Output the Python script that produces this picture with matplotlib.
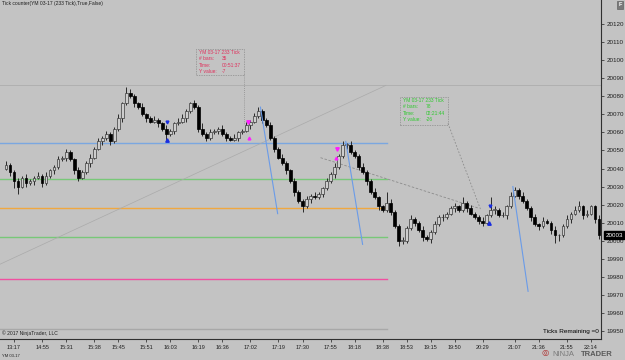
import matplotlib
matplotlib.use("Agg")
import matplotlib.pyplot as plt
from matplotlib.patches import Rectangle

plt.rcParams['font.family'] = ['Liberation Sans', 'DejaVu Sans']

# tick bars (233 tick), close prices
closes = [20042, 20038, 20033, 20030, 20035, 20032, 20033, 20035, 20036, 20032,
          20036, 20039, 20041, 20045, 20046, 20049, 20045, 20039, 20035, 20038,
          20043, 20046, 20051, 20055, 20057, 20059, 20055, 20062, 20068, 20076,
          20082, 20080, 20076, 20074, 20070, 20068, 20066, 20067, 20065, 20062,
          20059, 20061, 20065, 20066, 20068, 20072, 20076, 20074, 20062, 20059,
          20057, 20060, 20061, 20062, 20059, 20057, 20056, 20057, 20060, 20061,
          20064, 20066, 20069, 20072, 20067, 20064, 20057, 20051, 20046, 20043,
          20039, 20033, 20027, 20022, 20019, 20023, 20025, 20024, 20026, 20029,
          20033, 20037, 20041, 20047, 20053, 20053, 20049, 20047, 20041, 20038,
          20033, 20027, 20024, 20019, 20017, 20021, 20016, 20008, 20000, 20000,
          20007, 20012, 20010, 20006, 20002, 20001, 20005, 20009, 20013, 20013,
          20015, 20018, 20019, 20017, 20021, 20018, 20015, 20013, 20011, 20010,
          20014, 20017, 20017, 20014, 20014, 20019, 20025, 20028, 20025, 20022,
          20018, 20013, 20009, 20008, 20011, 20010, 20006, 20003, 20003, 20008,
          20012, 20015, 20017, 20019, 20014, 20015, 20019, 20012, 20003]
first_open = 20040
wick_hi = [2, 1, 1, 2, 1, 2, 1, 1, 2, 1, 2, 1, 1, 2, 1, 2, 1, 1, 2, 1, 1, 2, 1, 2, 1,
           2, 1, 1, 2, 1, 3, 2, 1, 1, 2, 1, 1, 2, 1, 1, 2, 1, 1, 2, 2, 1, 1, 2, 1, 3,
           1, 2, 1, 1, 2, 1, 1, 2, 1, 1, 2, 1, 2, 2, 1, 1, 2, 1, 1, 2, 1, 1, 2, 1, 1,
           2, 1, 2, 1, 1, 2, 1, 2, 1, 2, 1, 2, 1, 1, 2, 1, 1, 2, 1, 1, 6, 2, 1, 1, 2,
           1, 2, 1, 1, 2, 1, 1, 2, 1, 2, 1, 1, 2, 1, 3, 1, 2, 1, 1, 2, 1, 7, 2, 1, 2,
           1, 2, 2, 1, 2, 1, 1, 2, 1, 2, 1, 1, 2, 1, 1, 2, 1, 2, 3, 1, 2, 1, 1, 2]
wick_lo = [1, 2, 4, 4, 1, 2, 1, 2, 1, 2, 1, 1, 2, 1, 1, 2, 1, 2, 2, 1, 1, 2, 1, 1, 2,
           1, 2, 1, 1, 2, 1, 1, 2, 1, 1, 2, 1, 1, 2, 1, 3, 1, 2, 1, 1, 2, 1, 1, 2, 1,
           2, 1, 1, 2, 1, 2, 1, 1, 2, 1, 1, 2, 1, 1, 2, 1, 1, 2, 1, 1, 2, 1, 2, 1, 3,
           1, 2, 1, 1, 2, 1, 1, 2, 1, 1, 2, 1, 1, 2, 1, 2, 1, 1, 2, 1, 1, 2, 1, 3, 2,
           1, 1, 2, 1, 2, 1, 2, 1, 1, 2, 1, 1, 2, 1, 1, 2, 1, 1, 2, 2, 1, 1, 2, 1, 1,
           2, 1, 1, 2, 1, 1, 2, 1, 2, 1, 1, 2, 4, 3, 1, 1, 2, 1, 1, 2, 1, 1, 2, 2]

time_labels = ["13:17", "14:55", "15:31", "15:38", "15:45", "15:51", "16:03", "16:19",
               "16:36", "17:02", "17:19", "17:30", "17:55", "18:18", "18:38", "18:53",
               "19:15", "19:50", "20:29", "21:07", "21:36", "21:55", "22:14"]
time_bars = [2, 9, 15, 22, 28, 35, 41, 48, 54, 61, 68, 74, 81, 87, 94, 100, 106,
             112, 119, 127, 133, 140, 146]

# horizontal drawing objects: price, colour, last bar
levels = [20054, 20034, 20018, 20002, 19979, 19951]
level_colors = ["#7ba7e0", "#78c878", "#f0a840", "#78c878", "#f050a0", "#a8a8a8"]
level_end = 95
top_line = 20086

# blue rays (bar, price) pairs
rays = [((63.5, 20074), (67.8, 20015)),
        ((84.8, 20055), (89.0, 19998)),
        ((126.5, 20030), (130.3, 19972))]

# markers
pink_down = [(60.5, 20066), (82.5, 20051)]
pink_up = [(60.7, 20057), (82.3, 20046)]
blue_down = [(40.3, 20066), (120.8, 20019)]
blue_up = [(40.3, 20056), (120.6, 20010)]

last_price = 20003
bg = "#c3c3c3"

fig = plt.figure(figsize=(6.25, 3.6), dpi=100, facecolor=bg)
ax = fig.add_axes([0, 21 / 360, 601 / 625, 339 / 360], facecolor=bg)

n = len(closes)
xs = list(range(n))
opens = [first_open] + closes[:-1]
highs = [max(o, c) + h for o, c, h in zip(opens, closes, wick_hi)]
lows = [min(o, c) - l for o, c, l in zip(opens, closes, wick_lo)]

# lines
ax.axhline(top_line, color="#b0b0b0", lw=0.7, zorder=1)
for lv, col in zip(levels, level_colors):
    ax.plot([-2, level_end], [lv, lv], color=col, lw=1.0, zorder=1)

ax.plot([-1.5, 94.8], [19987, 20086], color="#aaaaaa", lw=0.5, zorder=1)
ax.plot([78.5, 118], [20046, 20018], color="#8c8c8c", lw=0.6, ls=(0, (3, 2)), zorder=1)
ax.plot([110.3, 118.5], [20065, 20017], color="#8c8c8c", lw=0.6, ls=(0, (2, 2)), zorder=1)
ax.plot([59.3, 59.3], [20092, 20064], color="#8c8c8c", lw=0.6, ls=(0, (1, 1.5)), zorder=1)

# candles
ax.vlines(xs, lows, highs, color="#2a2a2a", lw=0.7, zorder=2)
for x, o, c in zip(xs, opens, closes):
    h = max(abs(c - o), 0.4)
    if c >= o:
        ax.bar(x, h, bottom=min(o, c), width=0.7, color="#cdcdcd",
               edgecolor="#3a3a3a", linewidth=0.5, zorder=3)
    else:
        ax.bar(x, h, bottom=min(o, c), width=0.7, color="black",
               edgecolor="black", linewidth=0.5, zorder=3)

for p0, p1 in rays:
    ax.plot([p0[0], p1[0]], [p0[1], p1[1]], color="#6a9be8", lw=0.8, zorder=4)

for (x, y) in pink_down:
    ax.plot(x, y, marker="v", color="#ff20ff", ms=2.5, zorder=5)
for (x, y) in pink_up:
    ax.plot(x, y, marker="^", color="#ff20ff", ms=2, zorder=5)
for (x, y) in blue_down:
    ax.plot(x, y, marker="v", color="#1a2ee0", ms=2, zorder=5)
for (x, y) in blue_up:
    ax.plot(x, y, marker="^", color="#1a2ee0", ms=2.5, zorder=5)

ax.set_xlim(-1.5, 148.5)
ax.set_ylim(19945.6, 20133.3)

ax.yaxis.tick_right()
ax.set_yticks(list(range(19950, 20121, 10)))
ax.tick_params(axis="y", labelsize=4.5, length=2, width=0.5, pad=2, colors="#202020")
ax.set_xticks(time_bars)
ax.set_xticklabels(time_labels)
ax.tick_params(axis="x", labelsize=4, length=2, width=0.5, pad=2, colors="#202020")
for s in ["top", "left"]:
    ax.spines[s].set_visible(False)
ax.spines["right"].set_color("#303030")
ax.spines["bottom"].set_color("#303030")
ax.spines["right"].set_linewidth(0.8)
ax.spines["bottom"].set_linewidth(0.8)

# current price label
ax.annotate(str(last_price), xy=(1.0, last_price), xycoords=("axes fraction", "data"),
            xytext=(3, 0), textcoords="offset points", fontsize=4.5, color="white",
            va="center", ha="left",
            bbox=dict(boxstyle="square,pad=0.25", fc="black", ec="black"))


def fx(px):
    return px / 625


def fy(py):
    return 1 - py / 360


fig.text(fx(2), fy(4), "Tick counter(YM 03-17 (233 Tick),True,False)", fontsize=3.6,
         va="center", color="#202020")
fig.text(fx(2), fy(333), "© 2017 NinjaTrader, LLC", fontsize=3.6, va="center", color="#202020")
fig.text(fx(599), fy(331), "Ticks Remaining =0", fontsize=4.6, va="center", ha="right",
         color="black")
fig.text(fx(2), fy(356), "YM 03-17", fontsize=3, va="center", color="#202020")
fig.text(fx(620), fy(5), "F", fontsize=4, va="center", ha="center", color="white",
         weight="bold", bbox=dict(boxstyle="square,pad=0.3", fc="#7a7a7a", ec="#555555", lw=0.4))

# logo
fig.text(fx(545), fy(354), "\u25ce", fontsize=6, va="center", ha="center", color="#b03030")
fig.text(fx(552), fy(354), "NINJA", fontsize=5.5, va="center", ha="left", color="#7a7a7a")
fig.text(fx(581), fy(354), "TRADER", fontsize=5.5, va="center", ha="left", color="#5a5a5a",
         weight="bold")


# tooltips
def tooltip(x0, y0, h, color, rows):
    fig.patches.append(Rectangle((fx(x0), fy(y0 + h)), fx(48), h / 360,
                                 transform=fig.transFigure, fill=False, ec="#8c8c8c",
                                 lw=0.5, ls=(0, (2, 1.5))))
    fig.text(fx(x0 + 3), fy(y0 + 3.5), "YM 03-17 233 Tick", fontsize=3.5, va="center",
             color=color)
    for i, (lab, val) in enumerate(rows):
        yy = y0 + 3.5 + 6.3 * (i + 1)
        fig.text(fx(x0 + 3), fy(yy), lab, fontsize=3.5, va="center", color=color)
        fig.text(fx(x0 + 26), fy(yy), val, fontsize=3.5, va="center", color=color)


tooltip(196, 49, 26, "#e0305c", [("# bars:", "35"), ("Time:", "00:51:37"), ("Y value:", "-7")])
tooltip(400, 97, 28, "#2ec82e", [("# bars:", "78"), ("Time:", "02:21:44"), ("Y value:", "-26")])

fig.savefig("out.png", dpi=100, facecolor=bg)
